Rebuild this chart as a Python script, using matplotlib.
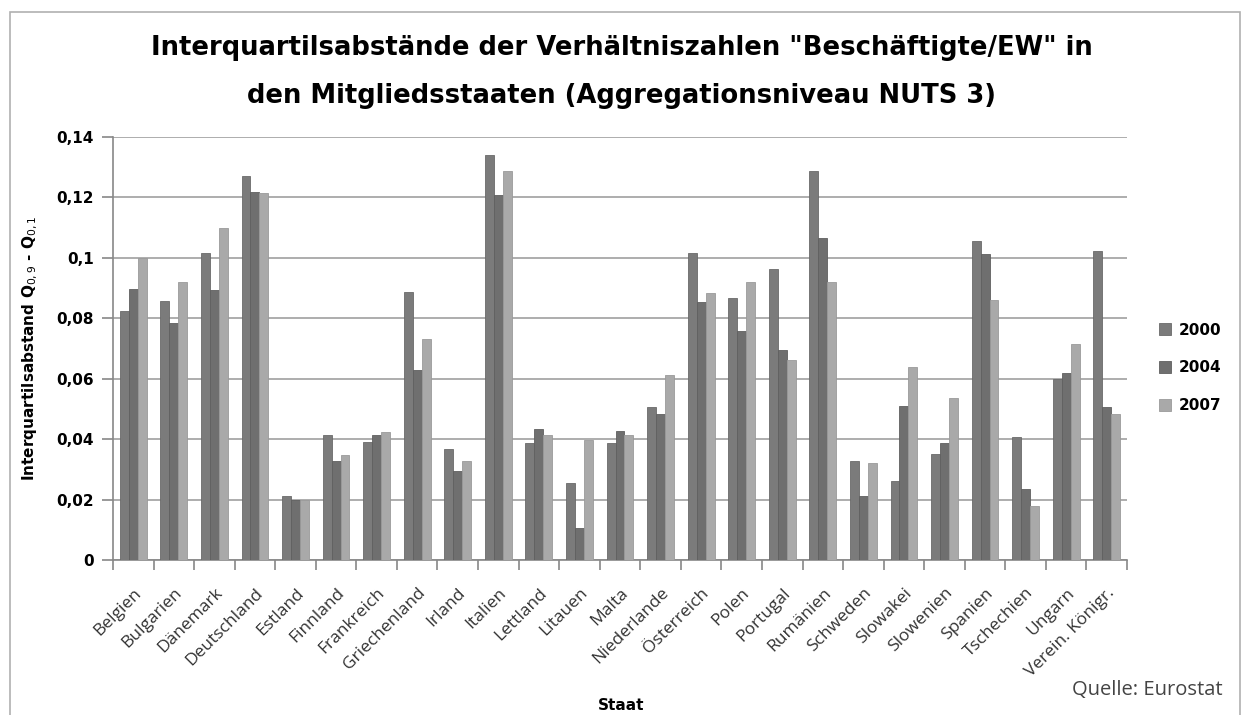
import matplotlib
matplotlib.use("Agg")
import matplotlib.pyplot as plt
import numpy as np
from matplotlib.patches import Rectangle

staaten = ["Belgien", "Bulgarien", "Dänemark", "Deutschland", "Estland", "Finnland",
           "Frankreich", "Griechenland", "Irland", "Italien", "Lettland", "Litauen",
           "Malta", "Niederlande", "Österreich", "Polen", "Portugal", "Rumänien",
           "Schweden", "Slowakei", "Slowenien", "Spanien", "Tschechien", "Ungarn",
           "Verein. Königr."]
v2000 = [0.0823, 0.0856, 0.1017, 0.1271, 0.0212, 0.0413, 0.0392, 0.0888, 0.0368,
         0.1342, 0.0386, 0.0256, 0.0386, 0.0505, 0.1017, 0.0867, 0.0964, 0.1287,
         0.0327, 0.0261, 0.0350, 0.1056, 0.0408, 0.0600, 0.1024]
v2004 = [0.0898, 0.0785, 0.0894, 0.1218, 0.0199, 0.0327, 0.0413, 0.0629, 0.0293,
         0.1207, 0.0435, 0.0105, 0.0428, 0.0483, 0.0855, 0.0758, 0.0694, 0.1067,
         0.0212, 0.0511, 0.0386, 0.1013, 0.0234, 0.0619, 0.0505]
v2007 = [0.0998, 0.0920, 0.1100, 0.1214, 0.0199, 0.0349, 0.0424, 0.0730, 0.0327,
         0.1287, 0.0413, 0.0397, 0.0413, 0.0613, 0.0883, 0.0920, 0.0662, 0.0920,
         0.0321, 0.0640, 0.0537, 0.0861, 0.0180, 0.0716, 0.0483]
jahre = ["2000", "2004", "2007"]
yticks = [0, 0.02, 0.04, 0.06, 0.08, 0.1, 0.12, 0.14]
yticklabels = ["0", "0,02", "0,04", "0,06", "0,08", "0,1", "0,12", "0,14"]

colors = ["#7b7b7b", "#6f6f6f", "#a9a9a9"]
edges = ["#6a6a6a", "#5f5f5f", "#9a9a9a"]

fig = plt.figure(figsize=(12.43, 7.15), dpi=100)
ax = fig.add_axes([113/1243, 1-560/715, (1127-113)/1243, (560-137)/715])

n = len(staaten)
x = np.arange(n)
w = 0.22
for i, (vals, c, e, lab) in enumerate(zip([v2000, v2004, v2007], colors, edges, jahre)):
    ax.bar(x + (i-1)*w, vals, width=w, color=c, edgecolor=e, linewidth=0.6, label=lab, zorder=3)

ax.set_xlim(-0.5, n-0.5)
ax.set_ylim(0, 0.14)
ax.set_yticks(yticks)
ax.set_yticklabels(yticklabels, fontweight="bold", fontsize=11)
ax.yaxis.grid(True, color="#a0a0a0", linewidth=1.2, zorder=0)
ax.set_xticks(np.arange(n+1)-0.5, minor=True)
ax.set_xticks(x)
ax.set_xticklabels(staaten, rotation=45, ha="right", rotation_mode="anchor",
                   fontsize=12.5, family="Open Sans", color="#333333")
ax.tick_params(axis="x", which="major", length=0, pad=18)
ax.tick_params(axis="x", which="minor", length=7, color="#888888", width=1.2)
ax.tick_params(axis="y", length=8, color="#888888", width=1.2, pad=6)
for s in ["top", "right"]:
    ax.spines[s].set_visible(False)
for s in ["left", "bottom"]:
    ax.spines[s].set_color("#888888")
    ax.spines[s].set_linewidth(1.2)

ax.set_ylabel("Interquartilsabstand Q$_{0,9}$ - Q$_{0,1}$", fontweight="bold", fontsize=11)
ax.yaxis.set_label_coords(-0.072, 0.5)

fig.text(0.5, 0.933, 'Interquartilsabstände der Verhältniszahlen "Beschäftigte/EW" in',
         ha="center", va="center", fontsize=18.6, fontweight="bold")
fig.text(0.5, 0.866, "den Mitgliedsstaaten (Aggregationsniveau NUTS 3)",
         ha="center", va="center", fontsize=18.6, fontweight="bold")

fig.text(0.5, 1-705/715, "Staat", ha="center", va="center", fontsize=11, fontweight="bold")
fig.text(1223/1243, 1-690/715, "Quelle: Eurostat", ha="right", va="center",
         fontsize=14.5, family="Open Sans", color="#444444")

leg = fig.legend(loc="center left", bbox_to_anchor=(1145/1243, 1-368/715), frameon=False,
                 prop={"weight": "bold", "size": 11}, handlelength=0.8, handleheight=0.8,
                 labelspacing=1.5, handletextpad=0.5)

fig.patches.append(Rectangle((10/1243, -0.02), 1230/1243, 1.02 - 12/715, transform=fig.transFigure,
                             fill=False, edgecolor="#b0b0b0", linewidth=1.2))

fig.savefig("out.png", dpi=100)
